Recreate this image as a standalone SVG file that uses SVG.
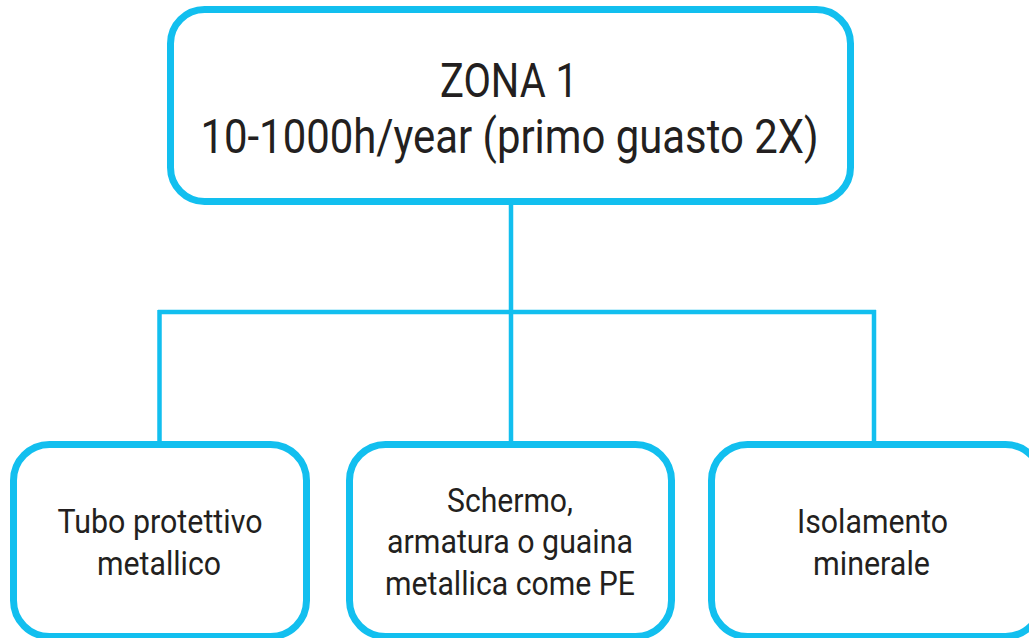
<svg xmlns="http://www.w3.org/2000/svg" width="1029" height="638" viewBox="0 0 1029 638">
<style>
.box{fill:#ffffff;stroke:#12bfef;stroke-width:7}
.conn{fill:none;stroke:#12bfef;stroke-width:4.5}
.t{font-family:Roboto,"Liberation Sans",sans-serif;fill:#231f20;text-anchor:middle}
.big{font-size:48px}
.sm{font-size:34px}
</style>
<rect width="1029" height="638" fill="#ffffff"/>
<g id="connectors">
<path class="conn" d="M511 201 V312 M158 312 H876 M159.5 310 V445 M511 312 V445 M874 310 V445"/>
</g>
<g id="zona1">
<rect class="box" x="170.5" y="9.5" width="680" height="192" rx="34"/>
<text class="t big" x="509" y="97" textLength="138" lengthAdjust="spacingAndGlyphs">ZONA 1</text>
<text class="t big" x="509.5" y="153" textLength="618" lengthAdjust="spacingAndGlyphs">10-1000h/year (primo guasto 2X)</text>
</g>
<g id="tubo">
<rect class="box" x="13.5" y="444.5" width="293" height="192" rx="36"/>
<text class="t sm" x="160" y="533" textLength="205" lengthAdjust="spacingAndGlyphs">Tubo protettivo</text>
<text class="t sm" x="159" y="575" textLength="124" lengthAdjust="spacingAndGlyphs">metallico</text>
</g>
<g id="schermo">
<rect class="box" x="349.5" y="444.5" width="322" height="192" rx="36"/>
<text class="t sm" x="510" y="512" textLength="126" lengthAdjust="spacingAndGlyphs">Schermo,</text>
<text class="t sm" x="510" y="553" textLength="246" lengthAdjust="spacingAndGlyphs">armatura o guaina</text>
<text class="t sm" x="510" y="595" textLength="250" lengthAdjust="spacingAndGlyphs">metallica come PE</text>
</g>
<g id="isolamento">
<rect class="box" x="711.5" y="444.5" width="330" height="192" rx="36"/>
<text class="t sm" x="872.5" y="533" textLength="151" lengthAdjust="spacingAndGlyphs">Isolamento</text>
<text class="t sm" x="871.5" y="575" textLength="117" lengthAdjust="spacingAndGlyphs">minerale</text>
</g>
</svg>
